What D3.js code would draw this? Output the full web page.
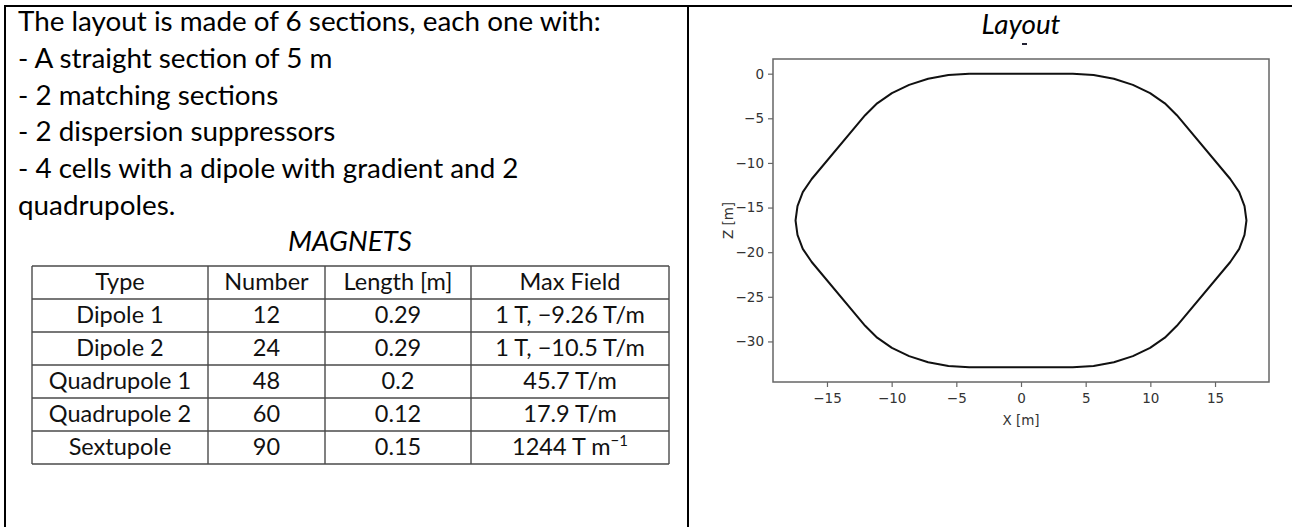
<!DOCTYPE html>
<html>
<head>
<meta charset="utf-8">
<script src="https://cdn.jsdelivr.net/npm/d3@7"></script>
<style>
  body { margin: 0; background: #fff; }
  svg { display: block; }
</style>
</head>
<body>
<div id="page"></div>
<script>
// Text of the left cell
const sectionLines = [
    "The layout is made of 6 sections, each one with:",
    "- A straight section of 5 m",
    "- 2 matching sections",
    "- 2 dispersion suppressors",
    "- 4 cells with a dipole with gradient and 2",
    "quadrupoles."
];

// Magnets table
const tableHeader = ["Type", "Number", "Length [m]", "Max Field"];
const magnetTypes = ["Dipole 1", "Dipole 2", "Quadrupole 1", "Quadrupole 2", "Sextupole"];
const magnetNumbers = ["12", "24", "48", "60", "90"];
const magnetLengths = ["0.29", "0.29", "0.2", "0.12", "0.15"];
const magnetFields = ["1 T, \u22129.26 T/m", "1 T, \u221210.5 T/m", "45.7 T/m", "17.9 T/m", "1244 T m^\u22121"];

// Ring layout (X, Z in metres)
const ringX = [-4.0, 4.0, 5.61, 7.18, 8.65, 9.98, 11.12, 12.05, 16.18, 16.87, 17.28, 17.43,
    17.28, 16.87, 16.18, 12.05, 11.12, 9.98, 8.65, 7.18, 5.61, 4.0, -4.0, -5.61, -7.18, -8.65,
    -9.98, -11.12, -12.05, -16.18, -16.87, -17.28, -17.43, -17.28, -16.87, -16.18, -12.05,
    -11.12, -9.98, -8.65, -7.18, -5.61, -4.0];
const ringZ = [0, 0, -0.14, -0.56, -1.25, -2.18, -3.32, -4.65, -11.80, -13.27, -14.84, -16.45,
    -18.06, -19.63, -21.10, -28.25, -29.58, -30.72, -31.65, -32.34, -32.76, -32.9, -32.9, -32.76,
    -32.34, -31.65, -30.72, -29.58, -28.25, -21.10, -19.63, -18.06, -16.45, -14.84, -13.27,
    -11.80, -4.65, -3.32, -2.18, -1.25, -0.56, -0.14, 0];
const xTicks = [-15, -10, -5, 0, 5, 10, 15];
const zTicks = [0, -5, -10, -15, -20, -25, -30];

const W = 1292, H = 527;
const svg = d3.select("#page").append("svg")
    .attr("width", W)
    .attr("height", H);

// Frame of the two cells
const frame = svg.append("g").attr("stroke", "#000").attr("stroke-width", 2);
frame.append("line").attr("x1", 4).attr("x2", W).attr("y1", 6).attr("y2", 6);
frame.append("line").attr("x1", 5).attr("x2", 5).attr("y1", 5).attr("y2", H);
frame.append("line").attr("x1", 688).attr("x2", 688).attr("y1", 5).attr("y2", H);

// Left cell text
const textFont = "Lato, 'Open Sans', sans-serif";
const lines = svg.append("g")
    .style("font-family", textFont)
    .style("font-size", "24px")
    .attr("fill", "#000");
lines.selectAll("text")
    .data(sectionLines)
    .enter()
    .append("text")
    .attr("x", 18)
    .attr("y", (d, i) => 31 + i * 36.8)
    .text(d => d);

// fit the first line width to the picture
const w0 = lines.select("text").node().getComputedTextLength();
const fs = 24 * 583 / w0;
lines.style("font-size", fs + "px");

svg.append("text")
    .attr("x", 350)
    .attr("y", 251)
    .attr("text-anchor", "middle")
    .style("font-family", textFont)
    .style("font-style", "italic")
    .style("font-size", fs + "px")
    .text("MAGNETS");

// Table
const colEdges = [32, 208, 325, 471, 669];
const rowTop = 266, rowH = 33;
const rows = [tableHeader].concat(magnetTypes.map((t, i) => [t, magnetNumbers[i], magnetLengths[i], magnetFields[i]]));
const table = svg.append("g");
const grid = table.append("g").attr("stroke", "#4a4a4a").attr("stroke-width", 1.4);
d3.range(rows.length + 1).forEach(r => {
    grid.append("line")
        .attr("x1", colEdges[0]).attr("x2", colEdges[colEdges.length - 1])
        .attr("y1", rowTop + r * rowH).attr("y2", rowTop + r * rowH);
});
colEdges.forEach(x => {
    grid.append("line")
        .attr("x1", x).attr("x2", x)
        .attr("y1", rowTop).attr("y2", rowTop + rows.length * rowH);
});
rows.forEach((row, r) => {
    row.forEach((cell, c) => {
        const t = table.append("text")
            .attr("x", (colEdges[c] + colEdges[c + 1]) / 2)
            .attr("y", rowTop + r * rowH + 24)
            .attr("text-anchor", "middle")
            .style("font-family", "Lato, 'DejaVu Sans', sans-serif")
            .style("font-size", "23.5px")
            .attr("fill", "#111");
        if (cell.includes("^")) {
            const parts = cell.split("^");
            t.append("tspan").text(parts[0]);
            t.append("tspan").attr("dy", -9).style("font-size", "15px").text(parts[1]);
        } else {
            t.text(cell);
        }
    });
});

// Layout plot
const plotLeft = 773, plotRight = 1269, plotTop = 59, plotBottom = 382;
const xr = d3.extent(ringX), zr = d3.extent(ringZ);
const xPad = (xr[1] - xr[0]) * 0.05, zPad = (zr[1] - zr[0]) * 0.05;
const xScale = d3.scaleLinear().domain([xr[0] - xPad, xr[1] + xPad]).range([plotLeft, plotRight]);
const zScale = d3.scaleLinear().domain([zr[0] - zPad, zr[1] + zPad]).range([plotBottom, plotTop]);

const fmt = d => (d < 0 ? "\u2212" + Math.abs(d) : "" + d);
const plot = svg.append("g");

const xAxis = plot.append("g")
    .attr("transform", "translate(0," + plotBottom + ")")
    .call(d3.axisBottom(xScale).tickValues(xTicks).tickFormat(fmt).tickSize(5).tickPadding(6).tickSizeOuter(0));
const zAxis = plot.append("g")
    .attr("transform", "translate(" + plotLeft + ",0)")
    .call(d3.axisLeft(zScale).tickValues(zTicks).tickFormat(fmt).tickSize(5).tickPadding(4).tickSizeOuter(0));
[xAxis, zAxis].forEach(a => {
    a.select(".domain").remove();
    a.selectAll("line").attr("stroke", "#666").attr("stroke-width", 1.2);
    a.selectAll("text")
        .style("font-family", "'DejaVu Sans', sans-serif")
        .style("font-size", "13.5px")
        .attr("fill", "#333");
});

plot.append("rect")
    .attr("x", plotLeft).attr("y", plotTop)
    .attr("width", plotRight - plotLeft).attr("height", plotBottom - plotTop)
    .attr("fill", "none").attr("stroke", "#666").attr("stroke-width", 1.5);

const line = d3.line()
    .x(i => xScale(ringX[i]))
    .y(i => zScale(ringZ[i]));
plot.append("path")
    .attr("d", line(d3.range(ringX.length)))
    .attr("fill", "none")
    .attr("stroke", "#111")
    .attr("stroke-width", 2)
    .attr("stroke-linejoin", "round");

plot.append("text")
    .attr("x", (plotLeft + plotRight) / 2)
    .attr("y", 425)
    .attr("text-anchor", "middle")
    .style("font-family", "'DejaVu Sans', sans-serif")
    .style("font-size", "13.5px")
    .attr("fill", "#333")
    .text("X [m]");
plot.append("text")
    .attr("transform", "translate(733," + ((plotTop + plotBottom) / 2) + ")rotate(-90)")
    .attr("text-anchor", "middle")
    .style("font-family", "'DejaVu Sans', sans-serif")
    .style("font-size", "13.5px")
    .attr("fill", "#333")
    .text("Z [m]");

svg.append("text")
    .attr("x", 1021)
    .attr("y", 34)
    .attr("text-anchor", "middle")
    .style("font-family", textFont)
    .style("font-style", "italic")
    .style("font-size", fs + "px")
    .text("Layout");
svg.append("rect")
    .attr("x", 1022).attr("y", 43).attr("width", 5).attr("height", 2)
    .attr("fill", "#223");
</script>
</body>
</html>
